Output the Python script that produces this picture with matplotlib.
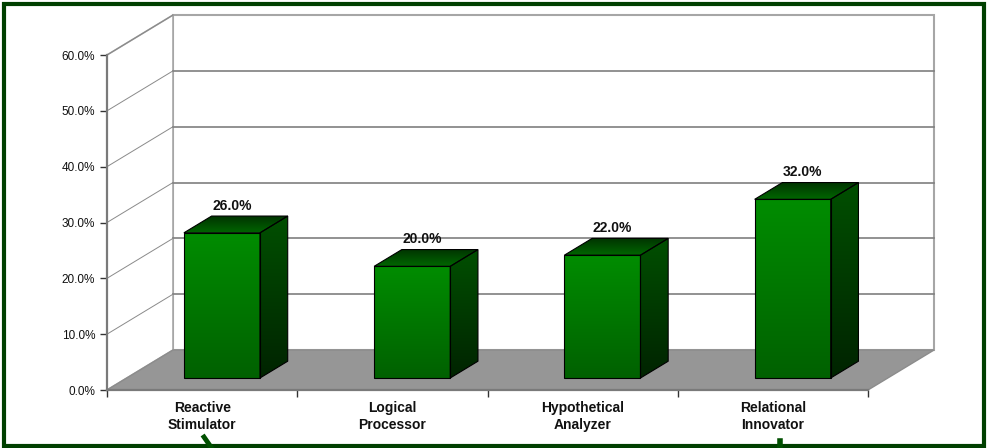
import numpy as np
import matplotlib
matplotlib.use("Agg")
import matplotlib.pyplot as plt
from matplotlib.patches import Polygon, Rectangle
from matplotlib.lines import Line2D

categories = ["Reactive\nStimulator", "Logical\nProcessor", "Hypothetical\nAnalyzer", "Relational\nInnovator"]
values = [26.0, 20.0, 22.0, 32.0]
y_ticks = [0, 10, 20, 30, 40, 50, 60]

plt.rcParams['font.family'] = ['Liberation Sans', 'DejaVu Sans']

W, H = 988, 448
fig = plt.figure(figsize=(W / 100, H / 100), dpi=100)
ax = fig.add_axes([107 / W, 58 / H, 761 / W, 335 / H])
ax.patch.set_visible(False)

n = len(values)
ymax = y_ticks[-1]
DX, DY = 0.347, 7.16   # depth offset of the 3d box, in data units
F0, F1 = 0.30, 0.72    # front / back depth of the bars
BW = 0.4


def face(xy, c_top, c_bot, z):
    xy = np.asarray(xy)
    clip = Polygon(xy, closed=True, facecolor='none', edgecolor='none', clip_on=False)
    ax.add_patch(clip)
    t = np.linspace(0, 1, 64)[:, None, None]
    img = np.array(c_top)[None, None, :] * (1 - t) + np.array(c_bot)[None, None, :] * t
    im = ax.imshow(img, extent=[xy[:, 0].min(), xy[:, 0].max(), xy[:, 1].min(), xy[:, 1].max()],
                   origin='upper', aspect='auto', zorder=z, interpolation='bilinear')
    im.set_clip_path(clip)
    ax.add_patch(Polygon(xy, closed=True, facecolor='none', edgecolor='#000000', lw=0.8,
                         zorder=z + 0.01, clip_on=False))


# walls and floor
ax.add_patch(Rectangle((DX, DY), n, ymax, facecolor='white', edgecolor='#a6a6a6', lw=1.5,
                       zorder=1, clip_on=False))
ax.add_patch(Polygon([(0, 0), (DX, DY), (DX, ymax + DY), (0, ymax)], closed=True,
                     facecolor='white', edgecolor='#a6a6a6', lw=1.2, zorder=1, clip_on=False))
for v in y_ticks[1:-1]:
    ax.plot([DX, n + DX], [v + DY, v + DY], color='#7f7f7f', lw=1.2, zorder=2, clip_on=False)
    ax.plot([0, DX], [v, v + DY], color='#8a8a8a', lw=0.7, zorder=2, clip_on=False)
ax.plot([0, DX], [ymax, ymax + DY], color='#8a8a8a', lw=0.8, zorder=2, clip_on=False)
ax.add_patch(Polygon([(0, 0), (n, 0), (n + DX, DY), (DX, DY)], closed=True,
                     facecolor='#969696', edgecolor='#8c8c8c', lw=1.0, zorder=3, clip_on=False))

# bars
c_front = ((0.0, 0.55, 0.0), (0.0, 0.38, 0.0))
c_side = ((0.0, 0.31, 0.0), (0.0, 0.14, 0.0))
c_top = ((0.0, 0.20, 0.0), (0.0, 0.40, 0.0))
for i, v in enumerate(values):
    x0 = i + 0.5 - BW / 2
    x1 = i + 0.5 + BW / 2
    fx0, fx1, fy = x0 + F0 * DX, x1 + F0 * DX, F0 * DY
    bx1, by = x1 + F1 * DX, F1 * DY
    bx0 = x0 + F1 * DX
    z = 5 + i
    face([(fx0, fy), (fx1, fy), (fx1, fy + v), (fx0, fy + v)], c_front[0], c_front[1], z)
    face([(fx1, fy), (bx1, by), (bx1, by + v), (fx1, fy + v)], c_side[0], c_side[1], z)
    face([(fx0, fy + v), (fx1, fy + v), (bx1, by + v), (bx0, by + v)], c_top[0], c_top[1], z)
    ax.text(i + 0.5 + 0.45 * DX, v + 7.0, f"{v:.1f}%", ha='center', va='center',
            fontsize=10, fontweight='bold', color='#111111', zorder=20)

ax.set_xlim(0, n)
ax.set_ylim(0, ymax)

# axes
for s in ['top', 'right']:
    ax.spines[s].set_visible(False)
for s in ['left', 'bottom']:
    ax.spines[s].set_color('#7a7a7a')
    ax.spines[s].set_linewidth(1.6)
    ax.spines[s].set_zorder(4)
ax.set_yticks(y_ticks)
ax.set_yticklabels([f"{v:.1f}%" for v in y_ticks], fontsize=8.5, color='#111111')
ax.set_xticks(range(n + 1))
ax.set_xticklabels([''] * (n + 1))
ax.set_xticks([i + 0.5 for i in range(n)], categories, minor=True)
ax.tick_params(axis='x', which='minor', length=0, pad=8, labelsize=10)
ax.tick_params(axis='both', which='major', length=5, width=1, color='#333333', direction='out')
for lab in ax.get_xticklabels(minor=True):
    lab.set_fontweight('bold')
    lab.set_linespacing(1.25)
    lab.set_color('#111111')

# border and arrow stubs
fig.add_artist(Rectangle((4 / W, 2 / H), 980 / W, 442 / H, transform=fig.transFigure,
                         fill=False, edgecolor='#004000', lw=3))
fig.add_artist(Line2D([204 / W, 213 / W], [1 - 437 / H, 1 - 450 / H], transform=fig.transFigure,
                      color='#005000', lw=3.5))
fig.add_artist(Line2D([780 / W, 780 / W], [1 - 441 / H, 1 - 450 / H], transform=fig.transFigure,
                      color='#005000', lw=4))

fig.savefig("out.png", dpi=100)
